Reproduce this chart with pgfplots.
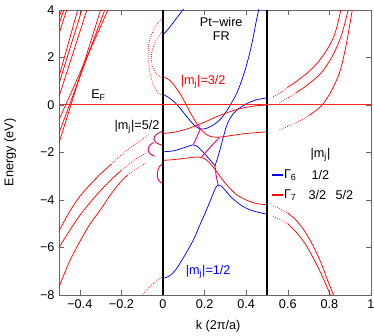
\documentclass[border=0pt]{standalone}
\usepackage{pgfplots}
\pgfplotsset{compat=1.18}
\usepackage{fontspec}
\setmainfont{Liberation Sans}
\definecolor{pr}{RGB}{255,0,0}
\definecolor{pb}{RGB}{0,0,255}
\begin{document}
\fontsize{9.5}{11}\selectfont
\begin{tikzpicture}
\begin{axis}[name=ax, scale only axis, width=234pt, height=213.75pt,
 xmin=-0.5, xmax=1, ymin=-8, ymax=4,
 xtick={-0.4,-0.2,0,0.2,0.4,0.6,0.8,1},
 xticklabels={−0.4,−0.2,0,0.2,0.4,0.6,0.8,1},
 ytick={-8,-6,-4,-2,0,2,4},
 yticklabels={−8,−6,−4,−2,0,2,4},
 tick align=inside, major tick length=3.75pt,
 axis line style={black!60}, every tick/.style={black!60},
 xlabel={k (2π/a)}, ylabel={Energy (eV)},
 xlabel style={at={(axis description cs:0.51,-0.11)}, anchor=center},
 ylabel style={at={(axis description cs:-0.157,0.5)}, anchor=center},
 every axis plot/.append style={line width=0.55pt},
]
% left steep lines
\addplot[pr] coordinates {(-0.5,3.0) (-0.463,4)};
\addplot[pr] coordinates {(-0.5,3.4) (-0.477,4)};
\addplot[pr] coordinates {(-0.5,3.7) (-0.487,4)};
\addplot[pr] coordinates {(-0.5,1.2) (-0.41,4)};
\addplot[pr] coordinates {(-0.5,0.9) (-0.39,4)};
\addplot[pr] coordinates {(-0.5,0.35) (-0.366,4)};
\addplot[pr] coordinates {(-0.5,-0.63) (-0.265,4)};
\addplot[pr] coordinates {(-0.5,-1.18) (-0.28,4)};
\addplot[pr] coordinates {(-0.5,-1.6) (-0.30,4)};
% upper arcs near Gamma
\addplot[pr, smooth, densely dotted] coordinates {(0,3.7) (-0.02,3.5) (-0.038,3.3) (-0.053,3.0) (-0.066,2.7) (-0.071,2.35) (-0.071,2.0) (-0.067,1.6) (-0.062,1.35) (-0.052,1.0) (-0.039,0.7) (-0.02,0.48) (0,0.4)};
\addplot[pr, smooth, densely dotted] coordinates {(0,3.15) (-0.022,2.88) (-0.04,2.6) (-0.052,2.3) (-0.056,2.0) (-0.052,1.65) (-0.035,1.35) (-0.015,1.2) (0,1.15)};
% lower left curves
\addplot[pr, smooth] coordinates {(-0.5,-5.3) (-0.45,-4.5) (-0.4,-3.85) (-0.35,-3.35) (-0.3,-2.9) (-0.25,-2.5)};
\addplot[pr, smooth, densely dotted] coordinates {(-0.25,-2.5) (-0.2,-2.1) (-0.15,-1.75) (-0.1,-1.45) (-0.07,-1.25)};
\addplot[pr, smooth] coordinates {(-0.5,-6.0) (-0.45,-5.3) (-0.4,-4.65) (-0.35,-4.1) (-0.3,-3.6) (-0.25,-3.15) (-0.2,-2.75)};
\addplot[pr, smooth, densely dotted] coordinates {(-0.2,-2.75) (-0.15,-2.4) (-0.1,-2.1) (-0.08,-2.03)};
\addplot[pr, smooth] coordinates {(-0.5,-7.66) (-0.45,-6.6) (-0.4,-5.75) (-0.35,-5.0) (-0.3,-4.4) (-0.25,-3.75) (-0.2,-3.2) (-0.17,-2.95)};
\addplot[pr, smooth, densely dotted] coordinates {(-0.17,-2.95) (-0.13,-2.7) (-0.1,-2.55) (-0.085,-2.45)};
\addplot[pr, smooth, densely dotted] coordinates {(-0.005,-7.25) (-0.03,-7.4) (-0.06,-7.62) (-0.08,-7.8) (-0.1,-8.0)};
% magenta arcs left of Gamma
\addplot[magenta, smooth, line width=0.7pt] coordinates {(-0.005,-1.12) (-0.025,-1.2) (-0.04,-1.32) (-0.044,-1.45) (-0.036,-1.57) (-0.015,-1.66) (0,-1.7)};
\addplot[magenta, smooth, line width=0.7pt] coordinates {(-0.045,-1.58) (-0.062,-1.68) (-0.072,-1.85) (-0.068,-2.0) (-0.055,-2.1) (-0.04,-2.15)};
\addplot[magenta, smooth, line width=0.7pt] coordinates {(-0.005,-2.5) (-0.018,-2.6) (-0.026,-2.8) (-0.027,-3.0) (-0.02,-3.18) (-0.005,-3.3)};
% central bands
\addplot[pb, smooth] coordinates {(0,2.95) (0.03,3.25) (0.06,3.6) (0.1,4.05)};
\addplot[pb, smooth] coordinates {(0,0.45) (0.03,0.3) (0.06,0.08) (0.09,-0.22) (0.12,-0.55) (0.15,-0.85) (0.18,-1.02)};
\addplot[pb, smooth] coordinates {(0.18,-1.02) (0.21,-0.98) (0.24,-0.85) (0.27,-0.65) (0.29,-0.45) (0.31,-0.2) (0.33,0.1) (0.355,0.5) (0.385,1.2) (0.41,1.95) (0.43,2.7) (0.45,3.6) (0.465,4.2)};
\addplot[pb, smooth] coordinates {(0,-1.97) (0.05,-1.93) (0.1,-1.8) (0.145,-1.68) (0.17,-1.78) (0.2,-2.05) (0.23,-2.35) (0.25,-2.55)};
\addplot[pb, smooth] coordinates {(0.25,-2.55) (0.26,-2.3) (0.275,-1.85) (0.29,-1.35) (0.305,-0.9) (0.32,-0.6) (0.35,-0.25) (0.4,0.05) (0.45,0.22) (0.5,0.3)};
\addplot[pb, smooth] coordinates {(0,-7.3) (0.03,-7.2) (0.06,-6.95) (0.1,-6.4) (0.145,-5.7) (0.18,-5.0) (0.21,-4.4) (0.24,-3.75) (0.255,-3.45) (0.265,-3.37) (0.28,-3.42) (0.3,-3.6) (0.33,-3.9) (0.38,-4.25) (0.43,-4.45) (0.5,-4.6)};
\addplot[pr, smooth] coordinates {(0,1.2) (0.03,1.05) (0.05,0.88) (0.08,0.5) (0.1,0.2) (0.13,-0.3) (0.16,-0.75) (0.19,-1.1) (0.22,-1.3) (0.26,-1.36) (0.3,-1.32) (0.4,-1.2) (0.5,-1.13)};
\addplot[pr, smooth] coordinates {(0,-1.2) (0.05,-1.15) (0.1,-1.05) (0.15,-0.9) (0.2,-0.72) (0.25,-0.52) (0.3,-0.35) (0.35,-0.2) (0.4,-0.1) (0.45,-0.03) (0.5,0)};
\addplot[pr, smooth] coordinates {(0,-2.33) (0.05,-2.3) (0.1,-2.25) (0.15,-2.2) (0.18,-2.2) (0.21,-2.32) (0.24,-2.6) (0.27,-2.95) (0.3,-3.3) (0.35,-3.75) (0.4,-4.0) (0.45,-4.15) (0.5,-4.2)};
% magenta connectors
\addplot[magenta, line width=0.7pt] coordinates {(0.178,-1.02) (0.165,-1.3) (0.145,-1.68)};
\addplot[magenta, line width=0.7pt] coordinates {(0.186,-2.18) (0.23,-1.75) (0.27,-1.38)};
\addplot[magenta, line width=0.7pt] coordinates {(0.25,-2.55) (0.255,-2.95) (0.265,-3.37)};
% right region
\addplot[pr, smooth, densely dotted] coordinates {(0.53,0.35) (0.57,0.55) (0.6,0.75)};
\addplot[pr, smooth] coordinates {(0.6,0.75) (0.65,1.05) (0.7,1.4) (0.75,1.85) (0.8,2.5) (0.83,3.1) (0.855,4.0)};
\addplot[pr, smooth, densely dotted] coordinates {(0.56,0.08) (0.6,0.3) (0.64,0.52)};
\addplot[pr, smooth] coordinates {(0.64,0.52) (0.68,0.75) (0.73,1.1) (0.77,1.45) (0.82,2.15) (0.86,3.0) (0.89,4.0)};
\addplot[pr, smooth, densely dotted] coordinates {(0.56,-1.05) (0.6,-0.9) (0.65,-0.7) (0.7,-0.45)};
\addplot[pr, smooth] coordinates {(0.7,-0.45) (0.74,-0.2) (0.77,0.05) (0.81,0.6) (0.85,1.4) (0.88,2.5) (0.91,4.0)};
\addplot[pr, smooth, densely dotted] coordinates {(0.53,-4.25) (0.57,-4.4) (0.6,-4.55)};
\addplot[pr, smooth] coordinates {(0.6,-4.55) (0.64,-4.85) (0.68,-5.3) (0.72,-5.9) (0.76,-6.65) (0.79,-7.35) (0.82,-8.0)};
\addplot[pr, smooth, densely dotted] coordinates {(0.53,-4.7) (0.57,-4.85) (0.6,-5.0)};
\addplot[pr, smooth] coordinates {(0.6,-5.0) (0.64,-5.35) (0.68,-5.8) (0.72,-6.4) (0.76,-7.1) (0.805,-8.0)};
% vertical lines
\addplot[black, line width=1.1pt] coordinates {(0,-8) (0,4)};
\addplot[black, line width=1.1pt] coordinates {(0.5,-8) (0.5,4)};
% Fermi level
\addplot[pr!85, line width=0.7pt] coordinates {(-0.5,0.01) (0,0.01) (0.5,0.01) (1,0.01)};
% legend sample lines
\addplot[pb, line width=0.9pt] coordinates {(0.525,-2.95) (0.575,-2.95)};
\addplot[pr, line width=0.9pt] coordinates {(0.525,-3.79) (0.575,-3.79)};
% labels
\node at (axis cs:-0.31,0.42) {E\textsubscript{F}};
\node at (axis cs:-0.125,-0.93) {|m\textsubscript{j}|=5/2};
\node[text=pr] at (axis cs:0.193,0.97) {|m\textsubscript{j}|=3/2};
\node[text=pb] at (axis cs:0.217,-7.03) {|m\textsubscript{j}|=1/2};
\node[align=center] at (axis cs:0.28,3.2) {Pt−wire\\FR};
% legend text
\node at (axis cs:0.757,-2.1) {|m\textsubscript{j}|};
\node at (axis cs:0.612,-2.95) {Γ\textsubscript{6}};
\node at (axis cs:0.757,-2.95) {1/2};
\node at (axis cs:0.612,-3.79) {Γ\textsubscript{7}};
\node at (axis cs:0.742,-3.79) {3/2};
\node at (axis cs:0.872,-3.79) {5/2};
\end{axis}
\pgfresetboundingbox
\path[use as bounding box] ([xshift=-44.25pt,yshift=-30pt]ax.south west) rectangle ([xshift=2.25pt,yshift=7.5pt]ax.north east);
\end{tikzpicture}
\end{document}
